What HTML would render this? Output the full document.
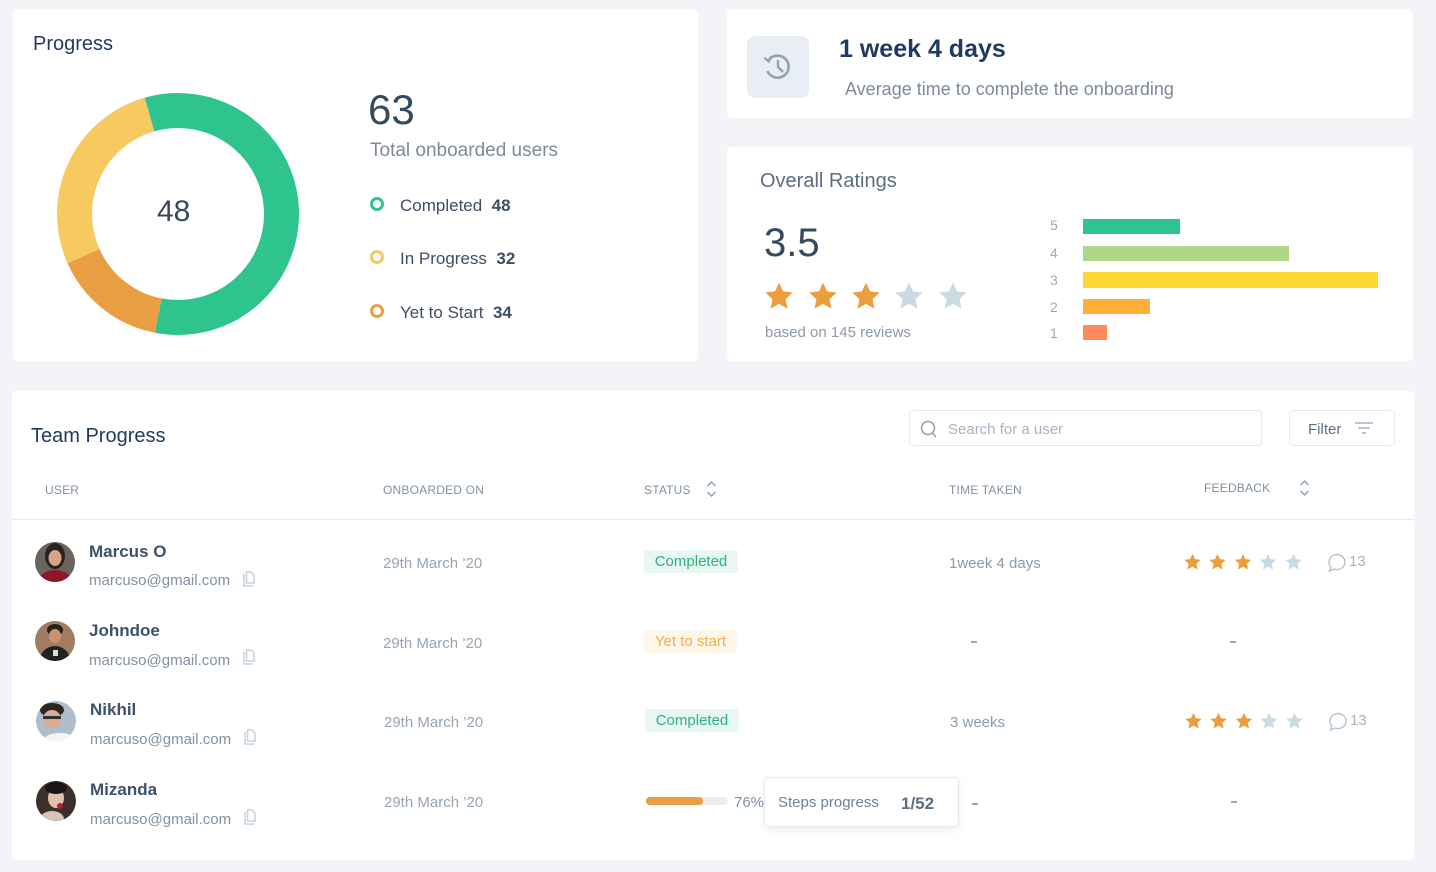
<!DOCTYPE html>
<html><head><meta charset="utf-8">
<style>
*{margin:0;padding:0;box-sizing:border-box}
body{width:1436px;height:872px;background:#f2f4f8;font-family:"Liberation Sans",sans-serif;position:relative;overflow:hidden}
.card{position:absolute;background:#fff;border-radius:5px}
.t{position:absolute;white-space:nowrap;line-height:1}
.hd{font-size:12px;color:#7e92a6;letter-spacing:0.2px}
.nm{font-size:17px;color:#3d5168;font-weight:bold}
.em{font-size:15px;color:#7e92a6}
.dt{font-size:15px;color:#95a5b4}
.badge{position:absolute;height:23px;font-size:15px;line-height:24px;text-align:center;border-radius:2px}
.dash{position:absolute;width:6px;height:2px;background:#97a7b6}
svg{position:absolute;left:0;top:0}
</style></head><body>

<div class="card" style="left:13px;top:9px;width:685px;height:352px"></div>
<div class="card" style="left:727px;top:9px;width:686px;height:109px"></div>
<div class="card" style="left:727px;top:147px;width:686px;height:214px"></div>
<div class="card" style="left:12px;top:391px;width:1402px;height:469px"></div>

<svg width="1436" height="872" viewBox="0 0 1436 872">
<defs>
<polygon id="st" points="0,-1 0.282,-0.388 0.951,-0.309 0.457,0.148 0.588,0.809 0,0.48 -0.588,0.809 -0.457,0.148 -0.951,-0.309 -0.282,-0.388"/>
</defs>
<!-- donut -->
<path d="M83.5 256.1 A103.5 103.5 0 0 1 149.5 114.5" fill="none" stroke="#f6ca5f" stroke-width="35"/>
<path d="M158.3 315.6 A103.5 103.5 0 0 1 83.5 256.1" fill="none" stroke="#ea9e44" stroke-width="35"/>
<path d="M149.5 114.5 A103.5 103.5 0 1 1 158.3 315.6" fill="none" stroke="#2fc48d" stroke-width="35"/>
<!-- legend rings -->
<circle cx="377" cy="204" r="5.5" fill="none" stroke="#2fc48d" stroke-width="3"/>
<circle cx="377" cy="257" r="5.5" fill="none" stroke="#f6ca5f" stroke-width="3"/>
<circle cx="377" cy="311" r="5.5" fill="none" stroke="#ea9e44" stroke-width="3"/>

<!-- icon box -->
<rect x="747" y="36" width="62" height="62" rx="8" fill="#e8eef3"/>
<path d="M768.5 60.5 A11 11 0 1 1 767.5 71" fill="none" stroke="#8fa3b5" stroke-width="2.6"/>
<path d="M764.5 58 L768.8 61.5 L771 56.5" fill="none" stroke="#8fa3b5" stroke-width="2.4"/>
<path d="M778 60 L778 67 L783 72" fill="none" stroke="#8fa3b5" stroke-width="2.4"/>

<!-- big stars -->
<g transform="translate(779,297) scale(14.4)"><use href="#st" fill="#ea9e3d"/></g>
<g transform="translate(823,297) scale(14.4)"><use href="#st" fill="#ea9e3d"/></g>
<g transform="translate(866,297) scale(14.4)"><use href="#st" fill="#ea9e3d"/></g>
<g transform="translate(909,297) scale(14.4)"><use href="#st" fill="#c8dbe4"/></g>
<g transform="translate(953,297) scale(14.4)"><use href="#st" fill="#c8dbe4"/></g>

<!-- bars -->
<rect x="1083" y="219" width="97" height="15" fill="#2fc48d"/>
<rect x="1083" y="246" width="206" height="15" fill="#aed888"/>
<rect x="1083" y="272" width="295" height="16" fill="#fed835"/>
<rect x="1083" y="299" width="67" height="15" fill="#fdaf38"/>
<rect x="1083" y="325" width="24" height="15" fill="#fd8b5a"/>

<!-- search box -->
<rect x="909.5" y="410.5" width="352" height="35" rx="4" fill="#fff" stroke="#e1e8ee"/>
<circle cx="928" cy="428" r="6.5" fill="none" stroke="#8fa3b5" stroke-width="1.6"/>
<line x1="932.5" y1="433" x2="936" y2="437" stroke="#8fa3b5" stroke-width="1.6"/>
<rect x="1289.5" y="410.5" width="105" height="35" rx="4" fill="#fff" stroke="#e1e8ee"/>
<line x1="1355" y1="423" x2="1373" y2="423" stroke="#a6b4c1" stroke-width="1.6"/>
<line x1="1358.5" y1="428" x2="1369.5" y2="428" stroke="#a6b4c1" stroke-width="1.6"/>
<line x1="1362" y1="433" x2="1366" y2="433" stroke="#a6b4c1" stroke-width="1.6"/>

<!-- sort icons -->
<path d="M707.5 486 L711.5 482 L715.5 486 M707.5 492 L711.5 496 L715.5 492" fill="none" stroke="#8fa3b5" stroke-width="1.5"/>
<path d="M1300.5 485 L1304.5 481 L1308.5 485 M1300.5 491 L1304.5 495 L1308.5 491" fill="none" stroke="#8fa3b5" stroke-width="1.5"/>

<line x1="12" y1="519.5" x2="1414" y2="519.5" stroke="#e5ebf0" stroke-width="1.5"/>

<!-- avatars -->
<defs>
<clipPath id="c1"><circle cx="55" cy="562" r="20"/></clipPath>
<clipPath id="c2"><circle cx="55" cy="641" r="20"/></clipPath>
<clipPath id="c3"><circle cx="56" cy="721" r="20"/></clipPath>
<clipPath id="c4"><circle cx="56" cy="801" r="20"/></clipPath>
</defs>
<g clip-path="url(#c1)">
<rect x="35" y="542" width="40" height="40" fill="#6a6460"/>
<ellipse cx="55" cy="556" rx="10" ry="13" fill="#2b2220"/>
<ellipse cx="55" cy="558" rx="6.5" ry="8" fill="#d9a48a"/>
<ellipse cx="55" cy="582" rx="17" ry="12" fill="#8e1626"/>
</g>
<g clip-path="url(#c2)">
<rect x="35" y="621" width="40" height="40" fill="#a07c62"/>
<ellipse cx="55" cy="630" rx="8" ry="6" fill="#2a211d"/>
<ellipse cx="55" cy="636" rx="6" ry="7" fill="#c9936f"/>
<ellipse cx="55" cy="660" rx="15" ry="14" fill="#222"/>
<rect x="53" y="650" width="5" height="6" fill="#ddd"/>
</g>
<g clip-path="url(#c3)">
<rect x="36" y="701" width="40" height="40" fill="#aebdcb"/>
<ellipse cx="52" cy="710" rx="12" ry="7" fill="#2a2624"/>
<ellipse cx="52" cy="719" rx="9" ry="9" fill="#d8ad92"/>
<rect x="43" y="716" width="18" height="3" fill="#333"/>
<ellipse cx="60" cy="742" rx="18" ry="9" fill="#f3f4f6"/>
</g>
<g clip-path="url(#c4)">
<rect x="36" y="781" width="40" height="40" fill="#3a2f2d"/>
<ellipse cx="56" cy="798" rx="8" ry="10" fill="#e3c0ad"/>
<ellipse cx="56" cy="788" rx="11" ry="6" fill="#1d1616"/>
<ellipse cx="52" cy="819" rx="12" ry="8" fill="#d9c4b8"/>
<circle cx="60" cy="806" r="3" fill="#a3282e"/>
</g>

<!-- copy icons -->
<g fill="none" stroke="#c3d3df" stroke-width="1.5">
<path d="M244 574 L244 586 L253 586 M246.5 572 L251 572 L254 575 L254 583 L246.5 583 Z"/>
<path d="M244 652 L244 664 L253 664 M246.5 650 L251 650 L254 653 L254 661 L246.5 661 Z"/>
<path d="M245 732 L245 744 L254 744 M247.5 730 L252 730 L255 733 L255 741 L247.5 741 Z"/>
<path d="M245 812 L245 824 L254 824 M247.5 810 L252 810 L255 813 L255 821 L247.5 821 Z"/>
</g>

<!-- small stars row1 -->
<g transform="translate(1192.5,562.5) scale(8.6)"><use href="#st" fill="#ea9e3d"/></g>
<g transform="translate(1217.5,562.5) scale(8.6)"><use href="#st" fill="#ea9e3d"/></g>
<g transform="translate(1243,562.5) scale(8.6)"><use href="#st" fill="#ea9e3d"/></g>
<g transform="translate(1268,562.5) scale(8.6)"><use href="#st" fill="#c8dbe4"/></g>
<g transform="translate(1293.5,562.5) scale(8.6)"><use href="#st" fill="#c8dbe4"/></g>
<!-- small stars row3 -->
<g transform="translate(1193.5,721.5) scale(8.6)"><use href="#st" fill="#ea9e3d"/></g>
<g transform="translate(1218.5,721.5) scale(8.6)"><use href="#st" fill="#ea9e3d"/></g>
<g transform="translate(1244,721.5) scale(8.6)"><use href="#st" fill="#ea9e3d"/></g>
<g transform="translate(1269,721.5) scale(8.6)"><use href="#st" fill="#c8dbe4"/></g>
<g transform="translate(1294.5,721.5) scale(8.6)"><use href="#st" fill="#c8dbe4"/></g>

<!-- comment icons -->
<g fill="none" stroke="#b3c3d0" stroke-width="1.4">
<path d="M1331 567 A8 7.5 0 1 1 1334 569 L1329.5 571 Z"/>
<path d="M1332 726 A8 7.5 0 1 1 1335 728 L1330.5 730 Z"/>
</g>

<!-- progress bar -->
<rect x="646" y="797" width="82" height="8" rx="4" fill="#e8eef2"/>
<rect x="646" y="797" width="57" height="8" rx="4" fill="#ea9e44"/>
</svg>

<!-- Progress card text -->
<div class="t" style="left:33px;top:34px;font-size:20px;color:#1d3a5f">Progress</div>
<div class="t" style="left:157px;top:197px;font-size:30px;color:#364a5e">48</div>
<div class="t" style="left:368px;top:89px;font-size:42px;color:#364a5e">63</div>
<div class="t" style="left:370px;top:141px;font-size:19px;color:#7b8b9b">Total onboarded users</div>
<div class="t" style="left:400px;top:197px;font-size:17px;color:#3d4f63">Completed&nbsp;&nbsp;<b>48</b></div>
<div class="t" style="left:400px;top:250px;font-size:17px;color:#3d4f63">In Progress&nbsp;&nbsp;<b>32</b></div>
<div class="t" style="left:400px;top:304px;font-size:17px;color:#3d4f63">Yet to Start&nbsp;&nbsp;<b>34</b></div>

<!-- time card -->
<div class="t" style="left:839px;top:37px;font-size:25px;font-weight:bold;color:#1d3a5f">1 week 4 days</div>
<div class="t" style="left:845px;top:80px;font-size:18px;color:#7b8b9b">Average time to complete the onboarding</div>

<!-- ratings -->
<div class="t" style="left:760px;top:171px;font-size:20px;color:#5b6e82">Overall Ratings</div>
<div class="t" style="left:764px;top:223px;font-size:40px;color:#364a5e">3.5</div>
<div class="t" style="left:765px;top:325px;font-size:15px;color:#8a9bab">based on 145 reviews</div>
<div class="t" style="left:1050px;top:218px;font-size:14px;color:#9aabb9">5</div>
<div class="t" style="left:1050px;top:246px;font-size:14px;color:#9aabb9">4</div>
<div class="t" style="left:1050px;top:273px;font-size:14px;color:#9aabb9">3</div>
<div class="t" style="left:1050px;top:300px;font-size:14px;color:#9aabb9">2</div>
<div class="t" style="left:1050px;top:326px;font-size:14px;color:#9aabb9">1</div>

<!-- team progress -->
<div class="t" style="left:31px;top:426px;font-size:20px;color:#1d3a5f">Team Progress</div>
<div class="t" style="left:948px;top:422px;font-size:15px;color:#a6b4c1">Search for a user</div>
<div class="t" style="left:1308px;top:422px;font-size:15px;color:#5d6f83">Filter</div>

<div class="t hd" style="left:45px;top:484px">USER</div>
<div class="t hd" style="left:383px;top:484px">ONBOARDED ON</div>
<div class="t hd" style="left:644px;top:484px">STATUS</div>
<div class="t hd" style="left:949px;top:484px">TIME TAKEN</div>
<div class="t hd" style="left:1204px;top:482px">FEEDBACK</div>

<!-- row1 -->
<div class="t nm" style="left:89px;top:543px">Marcus O</div>
<div class="t em" style="left:89px;top:573px">marcuso@gmail.com</div>
<div class="t dt" style="left:383px;top:556px">29th March ’20</div>
<div class="badge" style="left:644px;top:550px;width:94px;background:#e8f8f1;color:#2db27d">Completed</div>
<div class="t dt" style="left:949px;top:556px;color:#8a9bab">1week 4 days</div>
<div class="t" style="left:1349px;top:554px;font-size:15px;color:#a6b4c1">13</div>

<!-- row2 -->
<div class="t nm" style="left:89px;top:622px">Johndoe</div>
<div class="t em" style="left:89px;top:653px">marcuso@gmail.com</div>
<div class="t dt" style="left:383px;top:636px">29th March ’20</div>
<div class="badge" style="left:644px;top:630px;width:93px;background:#fff7ea;color:#f3ad4a">Yet to start</div>
<div class="dash" style="left:971px;top:641px"></div>
<div class="dash" style="left:1230px;top:641px"></div>

<!-- row3 -->
<div class="t nm" style="left:90px;top:701px">Nikhil</div>
<div class="t em" style="left:90px;top:732px">marcuso@gmail.com</div>
<div class="t dt" style="left:384px;top:715px">29th March ’20</div>
<div class="badge" style="left:645px;top:709px;width:94px;background:#e8f8f1;color:#2db27d">Completed</div>
<div class="t dt" style="left:950px;top:715px;color:#8a9bab">3 weeks</div>
<div class="t" style="left:1350px;top:713px;font-size:15px;color:#a6b4c1">13</div>

<!-- row4 -->
<div class="t nm" style="left:90px;top:781px">Mizanda</div>
<div class="t em" style="left:90px;top:812px">marcuso@gmail.com</div>
<div class="t dt" style="left:384px;top:795px">29th March ’20</div>
<div class="t" style="left:734px;top:795px;font-size:15px;color:#7e92a6">76%</div>
<div style="position:absolute;left:764px;top:777px;width:195px;height:50px;background:#fff;border:1px solid #e3e9ef;border-radius:5px;box-shadow:0 3px 8px rgba(120,140,160,0.15)"></div>
<div class="t" style="left:778px;top:795px;font-size:15px;color:#6f8296">Steps progress</div>
<div class="t" style="left:901px;top:795px;font-size:17px;font-weight:bold;color:#5d6f83">1/52</div>
<div class="dash" style="left:972px;top:803px"></div>
<div class="dash" style="left:1231px;top:801px"></div>

</body></html>
